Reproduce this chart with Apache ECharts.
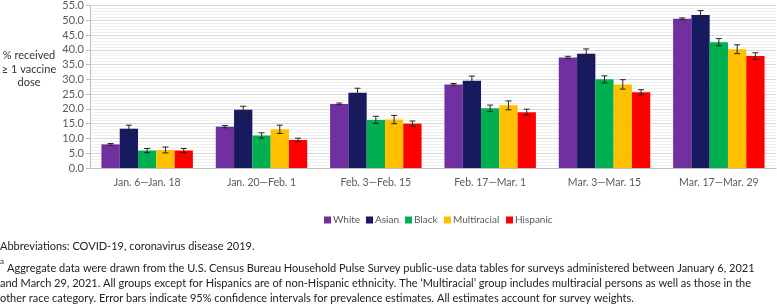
<!DOCTYPE html>
<html>
<head>
<meta charset="utf-8">
<script src="https://cdn.jsdelivr.net/npm/echarts@6/dist/echarts.min.js"></script>
<style>
  html, body { margin: 0; padding: 0; background: #fff; }
  #chart { width: 777px; height: 304px; }
</style>
</head>
<body>
<div id="chart"></div>
<script>
// survey periods
const periods = ['Jan. 6\u2014Jan. 18', 'Jan. 20\u2014Feb. 1', 'Feb. 3\u2014Feb. 15', 'Feb. 17\u2014Mar. 1', 'Mar. 3\u2014Mar. 15', 'Mar. 17\u2014Mar. 29'];
const groups = ['White', 'Asian', 'Black', 'Multiracial', 'Hispanic'];
const groupColors = ['#7030a0', '#171a5e', '#00b050', '#ffc000', '#ff0000'];

// % received >= 1 vaccine dose
const white = [8.0, 14.0, 21.7, 28.3, 37.4, 50.5];
const asian = [13.3, 19.7, 25.5, 29.5, 38.7, 51.8];
const black = [5.9, 11.0, 16.3, 20.2, 30.0, 42.6];
const multiracial = [6.1, 13.1, 16.4, 21.2, 28.3, 40.2];
const hispanic = [5.9, 9.5, 15.0, 18.9, 25.6, 37.9];

// half widths of 95% CI
const whiteErr = [0.3, 0.4, 0.3, 0.3, 0.4, 0.3];
const asianErr = [1.2, 1.2, 1.5, 1.6, 1.6, 1.5];
const blackErr = [0.7, 0.9, 1.2, 1.1, 1.2, 1.2];
const multiErr = [1.0, 1.4, 1.4, 1.5, 1.6, 1.5];
const hispanicErr = [0.7, 0.6, 0.9, 1.0, 0.9, 1.1];

const yTicks = { min: 0, max: 55, interval: 5 };

const yTitle = '% received\n\u2265 1 vaccine\ndose';
const notes = [
  'Abbreviations: COVID-19, coronavirus disease 2019.',
  'Aggregate data were drawn from the U.S. Census Bureau Household Pulse Survey public-use data tables for surveys administered between January 6, 2021',
  'and March 29, 2021. All groups except for Hispanics are of non-Hispanic ethnicity. The \u2018Multiracial\u2019 group includes multiracial persons as well as those in the',
  'other race category. Error bars indicate 95% confidence intervals for prevalence estimates. All estimates account for survey weights.'
];

const values = [white, asian, black, multiracial, hispanic];
const errors = [whiteErr, asianErr, blackErr, multiErr, hispanicErr];

const chart = echarts.init(document.getElementById('chart'));

const barSeries = groups.map((name, i) => ({
  name: name,
  type: 'bar',
  data: values[i],
  barGap: '0%',
  barCategoryGap: '20%',
  itemStyle: { color: groupColors[i] },
  z: 2
}));

const errSeries = groups.map((name, i) => ({
  type: 'custom',
  name: name + ' CI',
  data: values[i].map((v, j) => [j, v - errors[i][j], v + errors[i][j]]),
  z: 5,
  silent: true,
  renderItem(params, api) {
    const band = api.size([1, 0])[0];
    const bw = band * 0.8 / groups.length;
    const off = (i - (groups.length - 1) / 2) * bw;
    const lo = api.coord([api.value(0), api.value(1)]);
    const hi = api.coord([api.value(0), api.value(2)]);
    const x = lo[0] + off;
    const cap = 3;
    const style = { stroke: '#262626', lineWidth: 1 };
    return {
      type: 'group',
      children: [
        { type: 'line', shape: { x1: x, y1: lo[1], x2: x, y2: hi[1] }, style },
        { type: 'line', shape: { x1: x - cap, y1: lo[1], x2: x + cap, y2: lo[1] }, style },
        { type: 'line', shape: { x1: x - cap, y1: hi[1], x2: x + cap, y2: hi[1] }, style }
      ]
    };
  }
}));

const font = 'Lato, "Open Sans", sans-serif';

const noteY = [240, 261.5, 277, 292];
const titles = [{
  text: yTitle,
  left: 29, top: 49,
  textAlign: 'center',
  padding: 0,
  textStyle: { fontFamily: font, fontSize: 11, fontWeight: 'normal', color: '#333', lineHeight: 13.5 }
}];
notes.forEach((t, k) => {
  titles.push({
    text: t,
    left: k === 1 ? 7 : 0, top: noteY[k],
    padding: 0,
    textStyle: { fontFamily: font, fontSize: 11, fontWeight: 'normal', color: '#222', lineHeight: 13 }
  });
});
titles.push({
  text: 'a', left: 0, top: 257, padding: 0,
  textStyle: { fontFamily: font, fontSize: 8, fontWeight: 'normal', color: '#222', lineHeight: 9 }
});

// one legend per group so each entry sits where the original puts it
const legendLeft = [324, 366, 405, 444, 506];
const legends = groups.map((g, i) => ({
  data: [g],
  top: 215,
  left: legendLeft[i],
  padding: 0,
  itemWidth: 7,
  itemHeight: 7,
  icon: 'rect',
  textStyle: { fontFamily: font, fontSize: 10, color: '#595959', padding: [0, 0, 0, -3] }
}));

chart.setOption({
  animation: false,
  title: titles,
  grid: { left: 90, right: 1, top: 5, bottom: 136 },
  legend: legends,
  xAxis: {
    type: 'category',
    data: periods,
    axisLine: { lineStyle: { color: '#bfbfbf' } },
    axisTick: { show: false },
    axisLabel: { margin: 9, fontFamily: font, fontSize: 10.5, color: '#595959' }
  },
  yAxis: {
    type: 'value',
    min: yTicks.min,
    max: yTicks.max,
    interval: yTicks.interval,
    axisLine: { show: true, lineStyle: { color: '#bfbfbf' } },
    axisTick: { show: true, length: 4, lineStyle: { color: '#bfbfbf' } },
    axisLabel: { margin: 6, fontFamily: font, fontSize: 11, color: '#595959', formatter: v => v.toFixed(1) },
    splitLine: { lineStyle: { color: '#d9d9d9' } },
    minorTick: { show: false, splitNumber: 5 },
    minorSplitLine: { show: true, lineStyle: { color: '#f0f0f0' } }
  },
  series: barSeries.concat(errSeries)
});
</script>
</body>
</html>
